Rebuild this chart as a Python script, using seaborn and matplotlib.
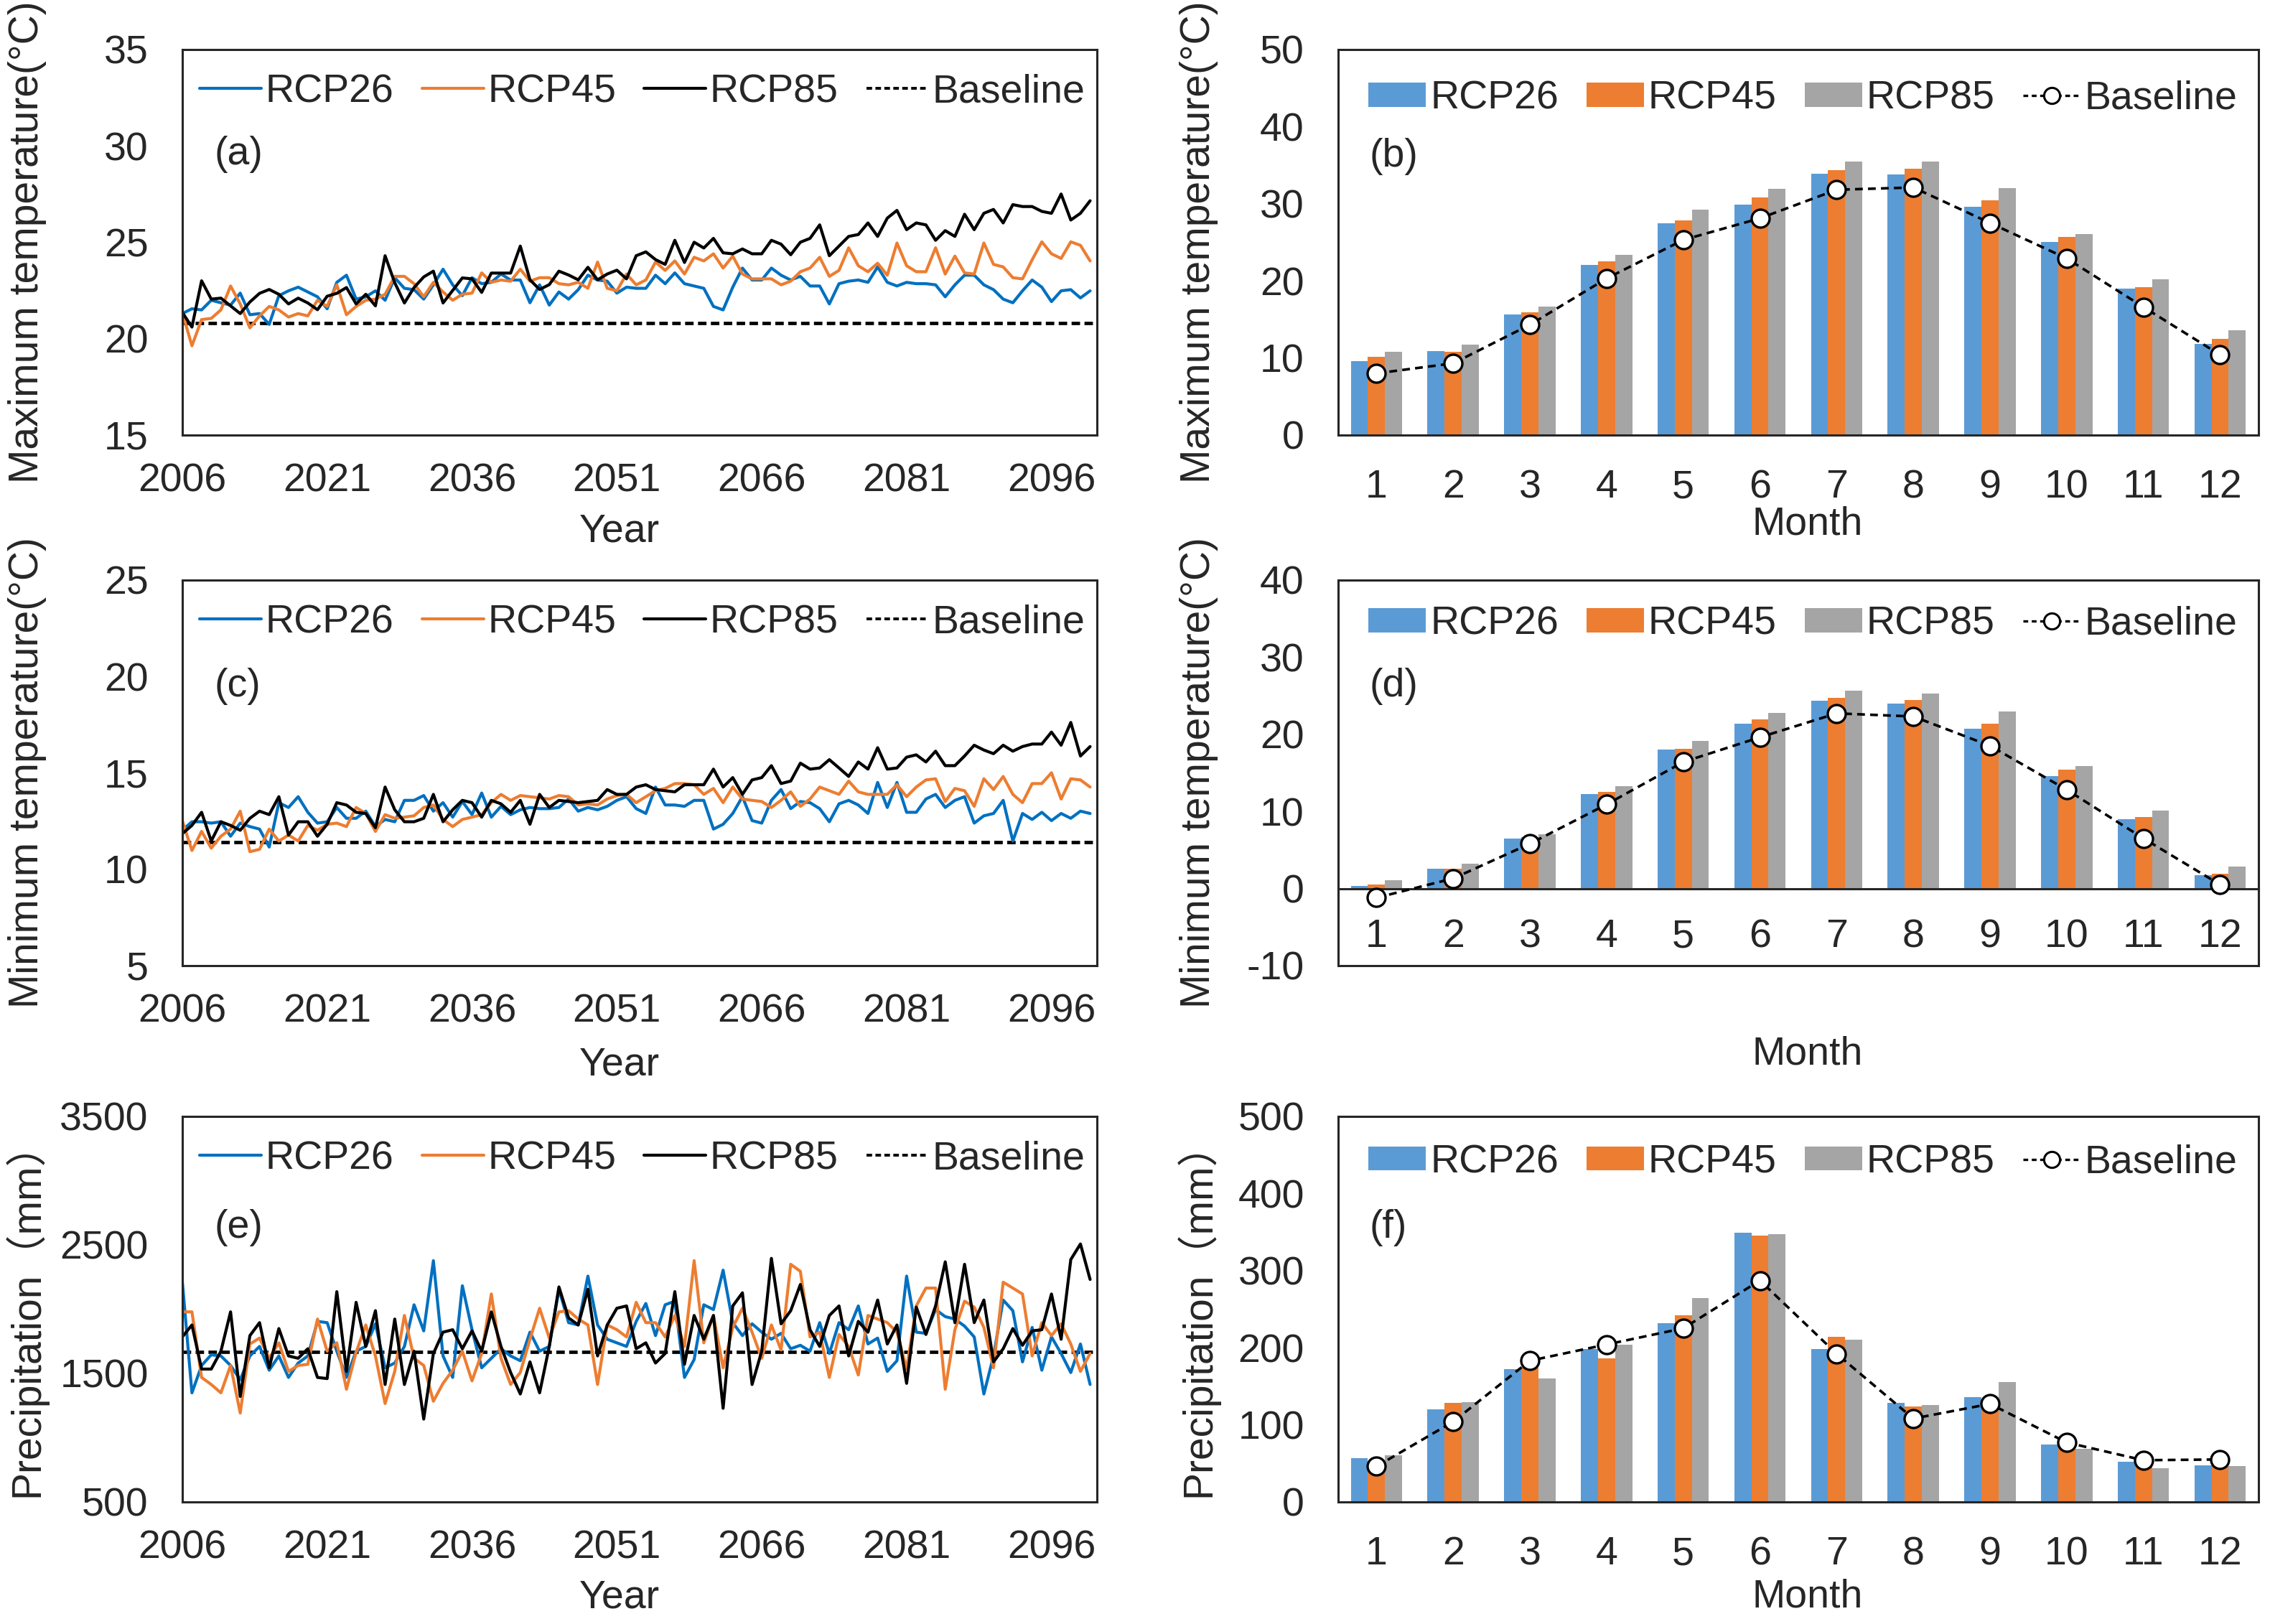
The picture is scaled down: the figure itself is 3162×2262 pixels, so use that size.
import numpy as np
import pandas as pd
import matplotlib
matplotlib.use('Agg')
import matplotlib.pyplot as plt
import seaborn as sns
from matplotlib.lines import Line2D
from matplotlib.patches import Patch

years = list(range(2006, 2101))
scenarios = ['RCP26', 'RCP45', 'RCP85']
months = [str(m) for m in range(1, 13)]

# annual maximum temperature (degC), 2006-2100
tmax_rcp26 = [21.30, 21.55, 21.49, 21.99, 21.86, 21.74, 22.36, 21.24, 21.30, 20.74,
              22.23, 22.48, 22.67, 22.42, 22.17, 21.55, 22.92, 23.29, 22.05, 22.17,
              22.48, 21.99, 23.16, 22.61, 22.54, 22.05, 22.79, 23.60, 22.79, 22.23,
              23.16, 22.85, 22.92, 23.35, 23.04, 23.04, 21.86, 22.79, 21.74, 22.42,
              22.05, 22.54, 23.29, 23.04, 22.98, 22.36, 22.67,
              22.61, 22.61, 23.29, 22.85, 23.41, 22.85, 22.73, 22.61, 21.67, 21.49,
              22.67, 23.66, 23.04, 23.04, 23.66, 23.29, 23.04, 23.23, 22.73, 22.73,
              21.80, 22.85, 22.98, 23.04, 22.92, 23.72, 22.92, 22.73, 22.92, 22.85,
              22.85, 22.79, 22.17, 22.79, 23.29, 23.29, 22.79, 22.54, 22.05, 21.86,
              22.48, 23.04, 22.67, 21.92, 22.48, 22.54, 22.11, 22.48]
tmax_rcp45 = [21.36, 19.63, 20.99, 21.05, 21.49, 22.73, 21.80, 20.56, 21.18, 21.67,
              21.49, 21.12, 21.30, 21.18, 21.99, 21.67, 22.79, 21.24, 21.67, 21.99,
              22.05, 22.30, 23.23, 23.23, 22.85, 22.17, 22.92, 22.42, 21.99, 22.30,
              22.36, 23.41, 22.92, 23.04, 22.98, 23.60, 22.98, 23.16, 23.16, 22.85,
              22.79, 22.92, 22.61, 23.97, 22.61, 22.48, 23.35,
              22.79, 23.04, 23.97, 23.54, 24.03, 23.35, 24.22, 24.03, 24.40, 23.66,
              24.28, 23.35, 23.10, 23.10, 23.10, 22.79, 22.98, 23.47, 23.66, 24.22,
              23.23, 23.54, 24.71, 23.78, 23.47, 23.91, 23.29, 24.96, 23.78, 23.47,
              23.47, 24.71, 23.35, 24.28, 23.41, 23.35, 24.96, 23.85, 23.72, 23.16,
              23.10, 24.09, 25.02, 24.40, 24.16, 25.02, 24.84, 24.03]
tmax_rcp85 = [21.36, 20.60, 23.00, 22.05, 22.10, 21.70, 21.30, 21.90, 22.35, 22.55,
              22.30, 21.80, 22.10, 21.85, 21.50, 22.20, 22.35, 22.65, 21.80, 22.30,
              21.70, 24.30, 22.90, 21.85, 22.65, 23.20, 23.50, 21.85, 22.50, 23.15,
              23.10, 22.40, 23.40, 23.40, 23.40, 24.80, 23.05, 22.55, 22.80, 23.50,
              23.30, 23.05, 23.70, 23.05, 23.35, 23.55, 23.10,
              24.30, 24.50, 24.10, 23.85, 25.10, 23.95, 25.00, 24.70, 25.20, 24.45,
              24.40, 24.65, 24.40, 24.40, 25.10, 24.90, 24.35, 25.00, 25.20, 25.90,
              24.30, 24.80, 25.30, 25.40, 26.00, 25.30, 26.25, 26.65, 25.65, 26.00,
              25.90, 25.10, 25.60, 25.30, 26.45, 25.65, 26.50, 26.70, 26.00, 26.95,
              26.85, 26.85, 26.60, 26.50, 27.50, 26.15, 26.50, 27.15]
tmax_baseline = 20.8

# annual minimum temperature (degC)
tmin_rcp26 = [12.02, 12.46, 12.46, 12.39, 12.46, 11.71, 12.39, 12.21, 12.08, 11.15,
              13.45, 13.20, 13.76, 12.95, 12.39, 12.46, 13.20, 12.64, 12.64, 13.01,
              12.21, 12.58, 12.46, 13.57, 13.57, 13.82, 13.01, 13.45, 12.70, 13.51,
              12.83, 13.95, 12.70, 13.26, 12.83, 13.08, 13.20, 13.14, 13.14, 13.20,
              13.64, 13.01, 13.20, 13.08, 13.26, 13.57, 13.76,
              13.14, 12.89, 14.26, 13.33, 13.33, 13.26, 13.57, 13.57, 12.08, 12.33,
              12.89, 13.76, 12.52, 12.39, 13.57, 14.13, 13.14, 13.51, 13.45, 13.14,
              12.46, 13.39, 13.57, 13.33, 12.89, 14.50, 13.20, 14.50, 12.95, 12.95,
              13.64, 13.88, 13.20, 13.57, 13.76, 12.39, 12.77, 12.89, 13.57, 11.46,
              12.89, 12.58, 12.95, 12.52, 12.89, 12.64, 13.01, 12.89]
tmin_rcp45 = [12.52, 10.97, 11.96, 11.09, 11.71, 12.08, 13.01, 10.91, 11.03, 12.08,
              11.46, 11.77, 11.46, 12.27, 12.02, 12.33, 12.39, 12.21, 13.20, 12.89,
              11.96, 12.83, 12.64, 12.70, 12.77, 13.20, 13.33, 12.58, 12.21, 12.58,
              12.70, 12.83, 13.45, 13.88, 13.57, 13.82, 13.76, 13.70, 13.64, 13.82,
              13.76, 13.33, 13.39, 13.33, 13.64, 13.82, 13.88,
              13.45, 13.76, 14.07, 14.19, 14.44, 14.44, 14.38, 13.88, 14.19, 13.45,
              14.26, 13.64, 13.57, 13.51, 13.20, 13.57, 14.01, 13.26, 13.64, 14.26,
              14.07, 13.88, 14.57, 14.01, 13.88, 13.88, 13.88, 14.38, 13.76, 14.26,
              14.63, 14.69, 13.51, 14.19, 14.07, 13.26, 14.69, 14.13, 14.81, 13.88,
              13.45, 14.44, 14.44, 15.00, 13.64, 14.69, 14.63, 14.26]
tmin_rcp85 = [11.84, 12.27, 12.95, 11.46, 12.46, 12.27, 12.02, 12.64, 13.01, 12.83,
              13.76, 11.77, 12.46, 12.46, 11.71, 12.33, 13.45, 13.33, 12.95, 12.89,
              12.15, 14.26, 13.08, 12.46, 12.46, 12.64, 13.88, 12.46, 13.08, 13.57,
              13.45, 12.70, 13.57, 13.39, 12.95, 13.57, 12.33, 13.88, 13.20, 13.57,
              13.51, 13.45, 13.51, 13.57, 14.13, 13.88, 13.88,
              14.26, 14.38, 14.13, 14.07, 14.01, 14.38, 14.38, 14.38, 15.19, 14.26,
              14.75, 13.88, 14.63, 14.75, 15.37, 14.44, 14.57, 15.50, 15.19, 15.25,
              15.68, 15.25, 14.81, 15.56, 15.19, 16.30, 15.19, 15.25, 15.81, 15.93,
              15.56, 16.12, 15.37, 15.37, 15.87, 16.43, 16.18, 15.99, 16.43, 16.12,
              16.36, 16.49, 16.49, 17.11, 16.43, 17.61, 15.87, 16.36]
tmin_baseline = 11.4

# annual precipitation (mm)
prec_rcp26 = [2217, 1348, 1561, 1644, 1635, 1561, 1450, 1635, 1709, 1524,
              1635, 1468, 1580, 1635, 1904, 1894, 1672, 1468, 1672, 1709,
              1885, 1543, 1580, 1709, 2033, 1830, 2376, 1635, 1468, 2181,
              1839, 1543, 1617, 1691, 1635, 1598, 1820, 1672, 1709, 2154,
              1894, 1876, 2256, 1876, 1765, 1737, 1709,
              1904, 2043, 1793, 2033, 2061, 1468, 1607, 2033, 1996, 2302,
              1894, 1793, 1885, 1820, 1765, 1811, 1691, 1718, 1672, 1894,
              1654, 1894, 1839, 2024, 1728, 1774, 1515, 1598, 2256, 1820,
              1811, 1996, 1941, 1922, 1867, 1783, 1339, 1635, 2070, 1987,
              1589, 1857, 1524, 1783, 1654, 1506, 1728, 1413]
prec_rcp45 = [1978, 1978, 1468, 1413, 1348, 1561, 1191, 1728, 1774, 1617,
              1737, 1515, 1561, 1570, 1922, 1672, 1737, 1376, 1663, 1876,
              1635, 1265, 1515, 1950, 1617, 1561, 1283, 1422, 1524, 1672,
              1441, 1654, 2117, 1617, 1413, 1506, 1765, 2006, 1774, 1978,
              1987, 1922, 1876, 1413, 1876, 1839, 1783,
              2052, 1894, 1894, 1783, 1950, 1709, 2376, 1737, 1950, 1543,
              1857, 2006, 1820, 1617, 1876, 1681, 2348, 2293, 1783, 1820,
              1468, 1802, 1709, 1487, 1950, 1922, 1894, 1820, 1533, 2024,
              2163, 2163, 1376, 1839, 2061, 2015, 1857, 1543, 2209, 2163,
              2117, 1635, 1894, 1793, 1885, 1728, 1515, 1654]
prec_rcp85 = [1783, 1876, 1533, 1533, 1672, 1978, 1320, 1793, 1894, 1543,
              1848, 1635, 1617, 1691, 1468, 1459, 2135, 1515, 2052, 1709,
              1987, 1413, 1922, 1413, 1672, 1144, 1654, 1820, 1839, 1691,
              1830, 1672, 1978, 1709, 1506, 1339, 1589, 1348, 1709, 2172,
              1931, 1876, 2154, 1635, 1876, 2006, 2024,
              1691, 1737, 1580, 1654, 2135, 1570, 1950, 1765, 1950, 1228,
              2024, 2126, 1413, 1672, 2394, 1885, 1987, 2191, 1839, 1709,
              1950, 2024, 1635, 1904, 1820, 2070, 1728, 1876, 1422, 2015,
              1802, 2024, 2367, 1894, 2348, 1894, 2070, 1589, 1691, 1848,
              1718, 1830, 1839, 2117, 1765, 2385, 2506, 2230]
prec_baseline = 1667

# monthly means
tmax_month_rcp26 = [9.6, 10.9, 15.6, 22.1, 27.5, 29.9, 33.9, 33.8, 29.6, 25.0, 19.0, 11.8]
tmax_month_rcp45 = [10.1, 10.8, 15.9, 22.5, 27.8, 30.8, 34.3, 34.5, 30.4, 25.7, 19.2, 12.5]
tmax_month_rcp85 = [10.8, 11.7, 16.7, 23.4, 29.2, 31.9, 35.5, 35.5, 32.0, 26.1, 20.2, 13.6]
tmax_month_base = [8.0, 9.3, 14.3, 20.3, 25.3, 28.1, 31.8, 32.1, 27.5, 22.9, 16.6, 10.4]

tmin_month_rcp26 = [0.3, 2.6, 6.5, 12.2, 18.0, 21.4, 24.3, 24.0, 20.7, 14.6, 9.0, 1.7]
tmin_month_rcp45 = [0.5, 2.6, 6.7, 12.5, 18.1, 21.9, 24.7, 24.4, 21.4, 15.4, 9.3, 1.9]
tmin_month_rcp85 = [1.1, 3.2, 7.0, 13.3, 19.1, 22.8, 25.6, 25.3, 22.9, 15.9, 10.1, 2.8]
tmin_month_base = [-1.2, 1.3, 5.8, 10.9, 16.4, 19.6, 22.7, 22.3, 18.5, 12.8, 6.5, 0.5]

prec_month_rcp26 = [57, 120, 172, 198, 232, 349, 198, 128, 136, 74, 52, 47]
prec_month_rcp45 = [48, 128, 174, 186, 242, 345, 214, 124, 130, 71, 48, 47]
prec_month_rcp85 = [60, 129, 160, 204, 264, 347, 210, 126, 155, 69, 44, 46]
prec_month_base = [46, 104, 183, 204, 225, 287, 192, 108, 127, 77, 54, 55]

line_colors = {'RCP26': '#0070C0', 'RCP45': '#ED7D31', 'RCP85': '#000000'}
bar_colors = {'RCP26': '#5B9BD5', 'RCP45': '#ED7D31', 'RCP85': '#A5A5A5'}

sns.set_style("white")
plt.rcParams['font.family'] = ['Liberation Sans', 'Noto Sans CJK SC', 'DejaVu Sans']
plt.rcParams['axes.unicode_minus'] = False
FS = 20
EDGE = '#262626'

fig = plt.figure(figsize=(15.81, 11.31), dpi=200)
rows_y = [0.7321, 0.4054, 0.0752]
height = 0.2375

line_panels = [
    (tmax_rcp26, tmax_rcp45, tmax_rcp85, tmax_baseline, (15, 35, 5),
     'Maximum temperature(°C)', '(a)', 0.728, -0.202),
    (tmin_rcp26, tmin_rcp45, tmin_rcp85, tmin_baseline, (5, 25, 5),
     'Minimum temperature(°C)', '(c)', 0.724, -0.209),
    (prec_rcp26, prec_rcp45, prec_rcp85, prec_baseline, (500, 3500, 1000),
     'Precipitation（mm）', '(e)', 0.711, -0.200),
]

bar_panels = [
    (tmax_month_rcp26, tmax_month_rcp45, tmax_month_rcp85, tmax_month_base, (0, 50, 10),
     'Maximum temperature(°C)', '(b)', 0.723, -0.183, 0.872),
    (tmin_month_rcp26, tmin_month_rcp45, tmin_month_rcp85, tmin_month_base, (-10, 40, 10),
     'Minimum temperature(°C)', '(d)', 0.724, -0.181, 0.885),
    (prec_month_rcp26, prec_month_rcp45, prec_month_rcp85, prec_month_base, (0, 500, 100),
     'Precipitation（mm）', '(f)', 0.71, -0.198, 0.880),
]


def style_frame(ax):
    for s in ax.spines.values():
        s.set_linewidth(1.1)
        s.set_color(EDGE)


# left column: annual series
for row, (s26, s45, s85, base, (lo, hi, step), ylab, tag, tag_y, xl_y) in enumerate(line_panels):
    ax = fig.add_axes([0.0803, rows_y[row], 0.4029, height])
    df = pd.DataFrame({
        'Year': years * 3,
        'Value': s26 + s45 + s85,
        'Scenario': [s for s in scenarios for _ in years],
    })
    sns.lineplot(data=df, x='Year', y='Value', hue='Scenario', hue_order=scenarios,
                 palette=line_colors, linewidth=1.5, errorbar=None, legend=False, ax=ax)
    ax.axhline(base, color='black', lw=1.7, ls=(0, (2.5, 1.3)), zorder=1)

    ax.set_xlim(2006, 2100.7)
    ax.set_xticks(range(2006, 2101, 15))
    ax.set_ylim(lo, hi)
    ax.set_yticks(np.arange(lo, hi + step, step))
    ax.tick_params(axis='x', direction='in', length=5.5, width=1, color=EDGE,
                   pad=14, labelsize=FS)
    ax.tick_params(axis='y', direction='in', length=5, width=1.5, color='#8c8c8c',
                   pad=17, labelsize=FS)
    style_frame(ax)

    ax.set_xlabel('Year', fontsize=FS)
    ax.xaxis.set_label_coords(0.478, xl_y)
    ax.set_ylabel(ylab, fontsize=20.5)
    ax.yaxis.set_label_coords(-0.148, 0.5)
    ax.text(0.035, tag_y, tag, transform=ax.transAxes, ha='left', va='center', fontsize=FS)

    handles = [Line2D([], [], color=line_colors[s], lw=1.5) for s in scenarios]
    handles.append(Line2D([], [], color='black', lw=1.4, ls=(0, (2, 1.2))))
    ax.legend(handles, scenarios + ['Baseline'], loc='center', bbox_to_anchor=(0.503, 0.888),
              ncol=4, frameon=False, fontsize=FS, handlelength=1.55, handletextpad=0.1,
              columnspacing=0.7, borderpad=0, borderaxespad=0)

# right column: monthly means
for row, (m26, m45, m85, base, (lo, hi, step), ylab, tag, tag_y, xl_y, leg_y) in enumerate(bar_panels):
    ax = fig.add_axes([0.5895, rows_y[row], 0.4054, height])
    df = pd.DataFrame({
        'Month': months * 3,
        'Value': m26 + m45 + m85,
        'Scenario': [s for s in scenarios for _ in months],
    })
    sns.barplot(data=df, x='Month', y='Value', hue='Scenario', order=months,
                hue_order=scenarios, palette=bar_colors, width=0.67, gap=0,
                saturation=1, errorbar=None, legend=False, linewidth=0, ax=ax)
    ax.plot(range(len(months)), base, color='black', lw=1.3, ls=(0, (3, 2)),
            marker='o', ms=9, mfc='white', mec='black', mew=1.2, zorder=5, clip_on=False)

    ax.set_xlim(-0.5, len(months) - 0.5)
    ax.set_ylim(lo, hi)
    ax.set_yticks(np.arange(lo, hi + step, step))
    ax.set_xticks(np.arange(-0.5, len(months), 1), minor=True)
    ax.tick_params(axis='x', which='major', length=0, pad=17, labelsize=FS)
    ax.tick_params(axis='x', which='minor', direction='in', length=5, width=1, color=EDGE)
    ax.tick_params(axis='y', direction='in', length=5, width=1.5, color='#8c8c8c',
                   pad=17, labelsize=FS)
    style_frame(ax)
    if lo < 0:
        ax.spines['bottom'].set_position(('data', 0))
        ax.patch.set_edgecolor(EDGE)
        ax.patch.set_linewidth(1.1)
        ax.tick_params(axis='x', which='major', pad=15)

    ax.set_xlabel('Month', fontsize=FS)
    ax.xaxis.set_label_coords(0.51, xl_y)
    ax.set_ylabel(ylab, fontsize=20.5)
    ax.yaxis.set_label_coords(-0.13, 0.5)
    ax.text(0.034, tag_y, tag, transform=ax.transAxes, ha='left', va='center', fontsize=FS)

    handles = [Patch(facecolor=bar_colors[s], edgecolor='none') for s in scenarios]
    handles.append(Line2D([], [], color='black', lw=1.2, ls=(0, (2, 1.5)), marker='o',
                          ms=8, mfc='white', mec='black', mew=1.1))
    ax.legend(handles, scenarios + ['Baseline'], loc='center', bbox_to_anchor=(0.505, leg_y),
              ncol=4, frameon=False, fontsize=FS, handlelength=1.45, handleheight=0.55,
              handletextpad=0.1, columnspacing=0.7, borderpad=0, borderaxespad=0)

plt.savefig('out.png', dpi=200)
plt.close()
